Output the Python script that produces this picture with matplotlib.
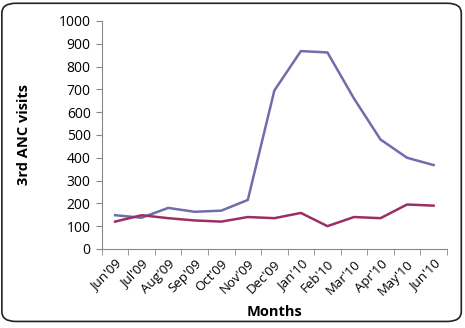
import matplotlib
import matplotlib.pyplot as plt
from matplotlib.patches import FancyBboxPatch
import numpy as np

matplotlib.use("Agg")

months = ["Jun'09", "Jul'09", "Aug'09", "Sep'09", "Oct'09", "Nov'09", "Dec'09",
          "Jan'10", "Feb'10", "Mar'10", "Apr'10", "May'10", "Jun'10"]
series_a = [148, 137, 180, 163, 168, 215, 695, 868, 862, 660, 480, 400, 368]
series_b = [120, 148, 135, 125, 120, 140, 135, 158, 100, 140, 135, 195, 190]

plt.rcParams["font.family"] = ["Open Sans", "DejaVu Sans"]

fig = plt.figure(figsize=(4.65, 3.28), dpi=100)
ax = fig.add_axes([0.219, 0.241, 0.742, 0.695])

x = np.arange(len(months))
ax.plot(x, series_a, color="#6f6dab", lw=1.8)
ax.plot(x, series_b, color="#9b2f63", lw=1.8)

ax.set_xlim(-0.5, len(months) - 0.5)
ax.set_ylim(0, 1000)
ax.set_yticks(range(0, 1001, 100))
ax.set_xticks(x)
ax.set_xticklabels(months, rotation=45, ha="right", rotation_mode="anchor", fontsize=9.5)
ax.set_xticks(np.arange(-0.5, len(months)), minor=True)
ax.tick_params(axis="x", which="major", length=0, pad=6)
ax.tick_params(axis="x", which="minor", length=4, color="#888888")
ax.tick_params(axis="y", length=4, color="#888888", labelsize=10, pad=4)

for s in ["top", "right"]:
    ax.spines[s].set_visible(False)
for s in ["left", "bottom"]:
    ax.spines[s].set_color("#888888")

ax.set_ylabel("3rd ANC visits", fontweight="bold", fontsize=10.5, labelpad=20)
ax.set_xlabel("Months", fontweight="bold", fontsize=10.5, va="center")
ax.xaxis.set_label_coords(0.5, -0.276)

frame = FancyBboxPatch((0.004, 0.02), 0.988, 0.97, boxstyle="round,pad=0,rounding_size=0.03",
                       transform=fig.transFigure, fill=False, ec="#222222", lw=1.2)
fig.patches.append(frame)

fig.savefig("out.png", dpi=100)
